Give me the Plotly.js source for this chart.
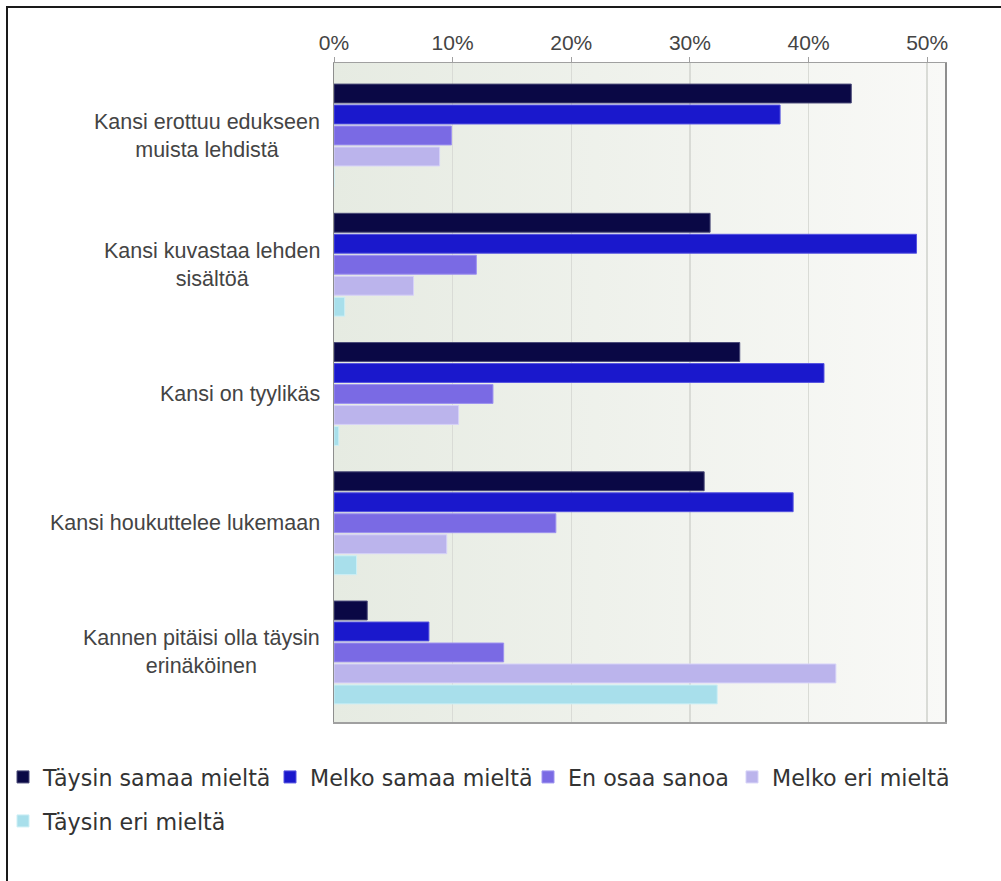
<!DOCTYPE html>
<html>
<head>
<meta charset="utf-8">
<script src="https://cdn.plot.ly/plotly-3.0.1.min.js"></script>
<style>
  html, body { margin: 0; padding: 0; background: #ffffff; }
  #chart { width: 1001px; height: 881px; }
</style>
</head>
<body>
<div id="chart"></div>
<script>
// ---- data ----
const categories = [
  "Kansi erottuu edukseen<br>muista lehdistä",
  "Kansi kuvastaa lehden<br>sisältöä",
  "Kansi on tyylikäs",
  "Kansi houkuttelee lukemaan",
  "Kannen pitäisi olla täysin<br>erinäköinen"
];
const seriesNames = [
  "Täysin samaa mieltä",
  "Melko samaa mieltä",
  "En osaa sanoa",
  "Melko eri mieltä",
  "Täysin eri mieltä"
];
const taysinSamaa = [43.6, 31.7, 34.2, 31.2, 2.8];
const melkoSamaa  = [37.6, 49.1, 41.3, 38.7, 8.0];
const enOsaa      = [9.9, 12.0, 13.4, 18.7, 14.3];
const melkoEri    = [8.9, 6.7, 10.5, 9.5, 42.3];
const taysinEri   = [0, 0.9, 0.4, 1.9, 32.3];
const tickValues  = [0, 10, 20, 30, 40, 50];

const seriesValues = [taysinSamaa, melkoSamaa, enOsaa, melkoEri, taysinEri];
const colors = ["#0a0845", "#1a18cc", "#7a6ae4", "#bbb4ec", "#a8dfeb"];
const lineColors = ["#4a4a78", "#5553e0", "#9d92f0", "#d6d2f8", "#cdeff5"];
const legendIds = ["legend", "legend2", "legend3", "legend4", "legend5"];

// plot geometry (px)
const W = 1001, H = 881;
const L = 334, R = 56, T = 63, B = 159;
const pw = W - L - R, ph = H - T - B;
const px2x = p => (p - L) / pw;
const py2y = p => (H - B - p) / ph;

const traces = seriesNames.map((name, i) => ({
  type: "bar",
  orientation: "h",
  name: name,
  y: categories,
  x: seriesValues[i],
  marker: { color: colors[i], line: { color: lineColors[i], width: 1 } },
  legend: legendIds[i],
  hoverinfo: "x+name"
}));

// left edge of each legend box (px) and row centre (px)
const legendPos = [
  [3, 777], [270, 777], [528, 777], [732, 777], [3, 821]
];
const legendFont = { family: "DejaVu Sans", size: 22.2, color: "#333333" };

const annotations = categories.map(c => ({
  xref: "paper", yref: "y",
  x: px2x(322), y: c,
  xanchor: "right", yanchor: "middle",
  align: "center",
  text: c, showarrow: false,
  font: { family: "Liberation Sans, Arial, sans-serif", size: 21.5, color: "#444444" }
}));

const gradSvg = '<svg xmlns="http://www.w3.org/2000/svg" width="100" height="100" preserveAspectRatio="none">' +
  '<defs><linearGradient id="g" x1="0" x2="1" y1="0" y2="0">' +
  '<stop offset="0" stop-color="#e6ebe2"/><stop offset="1" stop-color="#f9f9f7"/>' +
  '</linearGradient></defs><rect width="100" height="100" fill="url(#g)"/></svg>';

const layout = {
  width: W, height: H,
  margin: { l: L, r: R, t: T, b: B, pad: 0, autoexpand: false },
  paper_bgcolor: "#ffffff",
  plot_bgcolor: "#eef0eb",
  barmode: "group",
  bargap: 0.188,
  bargroupgap: 0.1,
  font: { family: "Liberation Sans, Arial, sans-serif", size: 21, color: "#444444" },
  xaxis: {
    side: "top",
    range: [0, 51.5],
    tickvals: tickValues,
    ticktext: tickValues.map(v => v + "%"),
    showgrid: true, gridcolor: "#d9dbd6", gridwidth: 1.5,
    zeroline: false,
    showline: true, linecolor: "#a0a0a0", linewidth: 1.5, mirror: true,
    ticks: "outside", ticklen: 5, tickcolor: "#a0a0a0", tickwidth: 1,
    ticklabelstandoff: -2,
    tickfont: { family: "Liberation Sans, Arial, sans-serif", size: 21, color: "#444444" },
    fixedrange: true
  },
  yaxis: {
    type: "category",
    categoryorder: "array", categoryarray: categories,
    range: [4.538, -0.561],
    showticklabels: false,
    ticks: "",
    showgrid: false, zeroline: false,
    showline: true, linecolor: "#8e8e8e", linewidth: 1.5, mirror: true,
    fixedrange: true
  },
  images: [{
    source: "data:image/svg+xml;charset=utf-8," + encodeURIComponent(gradSvg),
    xref: "paper", yref: "paper", x: 0, y: 1, sizex: 1, sizey: 1,
    xanchor: "left", yanchor: "top", sizing: "stretch", layer: "below"
  }],
  annotations: annotations,
  shapes: [
    { type: "line", xref: "paper", yref: "paper", x0: px2x(6), x1: px2x(1001), y0: py2y(7), y1: py2y(7),
      line: { color: "#1a1a1a", width: 2 } },
    { type: "line", xref: "paper", yref: "paper", x0: px2x(7), x1: px2x(7), y0: py2y(6), y1: py2y(881),
      line: { color: "#1a1a1a", width: 2 } }
  ],
  showlegend: true
};

legendIds.forEach((id, i) => {
  layout[id] = {
    orientation: "h",
    x: px2x(legendPos[i][0]), y: py2y(legendPos[i][1]),
    xanchor: "left", yanchor: "middle",
    bgcolor: "rgba(0,0,0,0)", borderwidth: 0,
    font: legendFont,
    itemclick: false, itemdoubleclick: false
  };
});

Plotly.newPlot("chart", traces, layout, { displayModeBar: false, staticPlot: true });
</script>
</body>
</html>
